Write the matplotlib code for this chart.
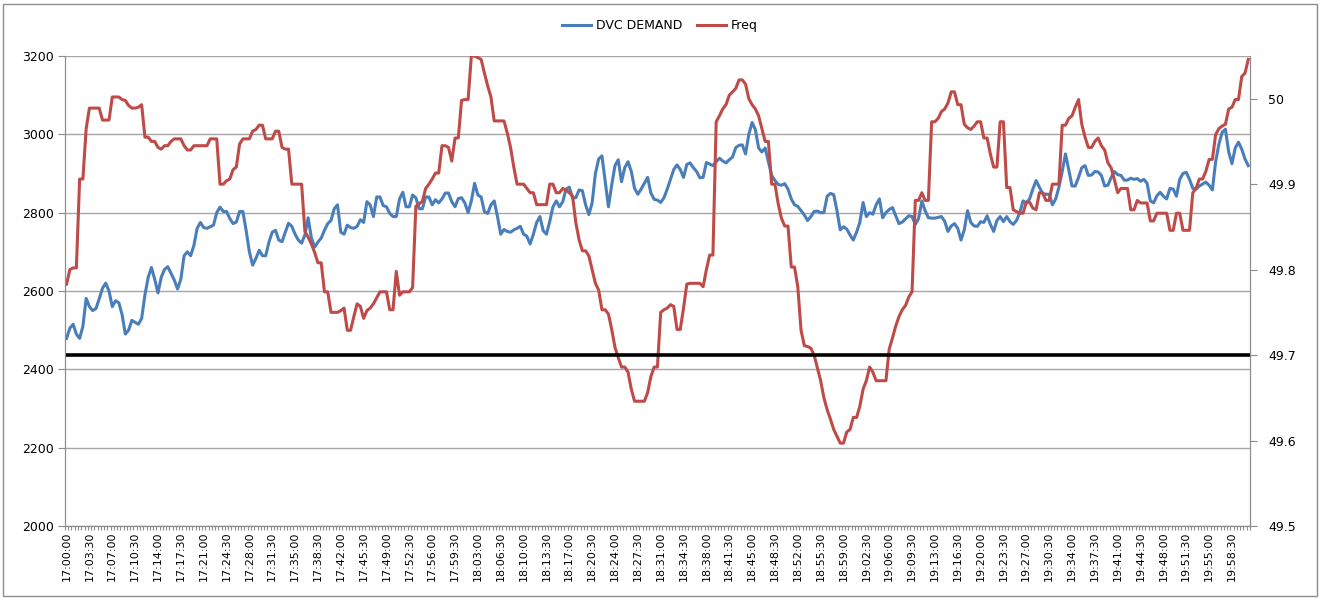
import numpy as np
import pandas as pd
import matplotlib
matplotlib.use('Agg')
import matplotlib.pyplot as plt
from matplotlib.patches import Rectangle

# DVC demand (left axis), one value every 30 s from 17:00:00
demand = [
    2479, 2505, 2515, 2490, 2479, 2510, 2581, 2560, 2550, 2555,
    2580, 2607, 2620, 2600, 2560, 2575, 2570, 2540, 2490, 2500,
    2525, 2520, 2515, 2530, 2590, 2635, 2660, 2630, 2595, 2635,
    2655, 2662, 2645, 2628, 2605, 2630, 2690, 2700, 2690, 2716,
    2760, 2775, 2762, 2760, 2764, 2768, 2800, 2814, 2803, 2803,
    2785, 2772, 2776, 2803, 2803, 2755, 2700, 2666, 2683, 2704,
    2690, 2690, 2725, 2750, 2755, 2730, 2726, 2750, 2773, 2765,
    2745, 2730, 2722, 2743, 2787, 2735, 2712, 2725, 2735, 2755,
    2772, 2780, 2810, 2820, 2750, 2745, 2768, 2762, 2760, 2765,
    2782, 2775, 2828, 2820, 2790, 2840, 2840, 2818, 2815, 2798,
    2790, 2790, 2835, 2852, 2815, 2815, 2845, 2838, 2810, 2810,
    2840, 2840, 2820, 2833, 2825, 2835, 2850, 2850, 2828, 2815,
    2836, 2838, 2825, 2800, 2830, 2875, 2845, 2840, 2802, 2798,
    2820, 2830, 2790, 2745, 2757, 2752, 2750, 2756, 2760, 2765,
    2745, 2740, 2720, 2745, 2775, 2790, 2754, 2745, 2777, 2815,
    2830, 2815, 2828, 2860, 2865, 2838, 2838, 2858, 2856, 2820,
    2795, 2825, 2900, 2937, 2945, 2880, 2815, 2871, 2920, 2935,
    2879, 2915, 2930, 2905, 2862, 2847, 2860, 2875, 2890, 2850,
    2834, 2832, 2826, 2838, 2860, 2885, 2910, 2922, 2910, 2890,
    2923, 2927, 2915, 2905, 2889, 2890, 2928, 2924, 2920, 2930,
    2939, 2932, 2927, 2935, 2942, 2966, 2972, 2973, 2950, 3000,
    3030, 3012, 2965, 2955, 2965, 2930, 2895, 2882, 2872, 2870,
    2874, 2860, 2835, 2820, 2816, 2805, 2794, 2780, 2790, 2803,
    2804, 2800, 2800, 2842, 2849, 2846, 2805, 2756, 2764, 2758,
    2743, 2730, 2750, 2775, 2826, 2790, 2800, 2796, 2820, 2835,
    2787, 2800, 2808, 2813, 2792, 2772, 2776, 2784, 2792, 2790,
    2770, 2785, 2830, 2805, 2787, 2786, 2786, 2788, 2790, 2778,
    2752, 2766, 2772, 2760, 2730, 2756, 2805, 2775, 2766, 2765,
    2777, 2775, 2792, 2770, 2752, 2780, 2790, 2777, 2790, 2777,
    2770, 2780, 2800, 2830, 2825, 2835, 2860, 2882, 2865, 2849,
    2847, 2847, 2820, 2835, 2865, 2905, 2950, 2910, 2868, 2868,
    2890, 2915, 2920, 2895, 2896, 2905, 2904, 2895, 2868, 2870,
    2890, 2905, 2897, 2895, 2883, 2883, 2888, 2885, 2887, 2880,
    2885, 2875, 2830, 2825, 2843, 2852, 2842, 2835, 2862, 2860,
    2842, 2885, 2900, 2903, 2885, 2862, 2860, 2868, 2873, 2878,
    2870, 2858, 2930, 2975, 3005, 3013, 2955, 2925, 2965, 2980,
    2962, 2937, 2920,
]

# grid frequency in Hz (right axis)
freq = [
    49.783, 49.800, 49.802, 49.802, 49.906, 49.906, 49.965, 49.989, 49.989, 49.989,
    49.989, 49.975, 49.975, 49.975, 50.002, 50.002, 50.002, 49.999, 49.998, 49.992,
    49.989, 49.989, 49.990, 49.993, 49.955, 49.955, 49.950, 49.950, 49.943, 49.941,
    49.945, 49.945, 49.950, 49.953, 49.953, 49.953, 49.945, 49.940, 49.940, 49.945,
    49.945, 49.945, 49.945, 49.945, 49.953, 49.953, 49.953, 49.900, 49.900, 49.904,
    49.906, 49.917, 49.920, 49.947, 49.953, 49.953, 49.953, 49.962, 49.964, 49.969,
    49.969, 49.953, 49.953, 49.953, 49.962, 49.962, 49.943, 49.941, 49.941, 49.900,
    49.900, 49.900, 49.900, 49.845, 49.838, 49.830, 49.820, 49.808, 49.808, 49.774,
    49.774, 49.750, 49.750, 49.750, 49.752, 49.755, 49.729, 49.729, 49.745, 49.760,
    49.757, 49.743, 49.752, 49.755, 49.760, 49.767, 49.774, 49.774, 49.774, 49.753,
    49.753, 49.798, 49.770, 49.774, 49.774, 49.774, 49.779, 49.874, 49.877, 49.880,
    49.895, 49.900, 49.906, 49.913, 49.913, 49.945, 49.945, 49.943, 49.927, 49.954,
    49.954, 49.998, 49.999, 49.999, 50.050, 50.050, 50.048, 50.046, 50.030, 50.015,
    50.002, 49.974, 49.974, 49.974, 49.974, 49.960, 49.943, 49.920, 49.900, 49.900,
    49.900, 49.895, 49.890, 49.890, 49.876, 49.876, 49.876, 49.876, 49.900, 49.900,
    49.890, 49.890, 49.895, 49.893, 49.890, 49.886, 49.855, 49.835, 49.822, 49.822,
    49.816, 49.800, 49.784, 49.776, 49.753, 49.753, 49.748, 49.730, 49.709, 49.697,
    49.686, 49.686, 49.680, 49.660, 49.646, 49.646, 49.646, 49.646, 49.656, 49.675,
    49.686, 49.686, 49.750, 49.753, 49.755, 49.759, 49.757, 49.730, 49.730, 49.755,
    49.783, 49.784, 49.784, 49.784, 49.784, 49.780, 49.800, 49.817, 49.817, 49.973,
    49.980, 49.988, 49.993, 50.004, 50.008, 50.012, 50.022, 50.022, 50.017, 50.000,
    49.993, 49.988, 49.980, 49.965, 49.950, 49.950, 49.900, 49.900, 49.877, 49.860,
    49.851, 49.851, 49.803, 49.803, 49.780, 49.729, 49.711, 49.710, 49.708, 49.700,
    49.685, 49.670, 49.650, 49.636, 49.625, 49.613, 49.605, 49.597, 49.597, 49.610,
    49.613, 49.627, 49.627, 49.640, 49.660, 49.670, 49.686, 49.680, 49.670, 49.670,
    49.670, 49.670, 49.707, 49.720, 49.734, 49.745, 49.753, 49.758, 49.768, 49.774,
    49.881, 49.881, 49.890, 49.881, 49.881, 49.973, 49.973, 49.977, 49.985, 49.988,
    49.995, 50.008, 50.008, 49.993, 49.993, 49.970, 49.966, 49.964, 49.968, 49.973,
    49.973, 49.954, 49.954, 49.935, 49.920, 49.920, 49.973, 49.973, 49.896, 49.896,
    49.870, 49.868, 49.866, 49.866, 49.879, 49.879, 49.872, 49.870, 49.890, 49.890,
    49.881, 49.881, 49.900, 49.900, 49.900, 49.969, 49.969, 49.977, 49.980, 49.990,
    49.999, 49.970, 49.955, 49.943, 49.943, 49.950, 49.954, 49.945, 49.940, 49.925,
    49.919, 49.905, 49.890, 49.895, 49.895, 49.895, 49.870, 49.870, 49.881, 49.878,
    49.878, 49.878, 49.857, 49.857, 49.866, 49.866, 49.866, 49.866, 49.846, 49.846,
    49.866, 49.866, 49.846, 49.846, 49.846, 49.890, 49.895, 49.906, 49.906, 49.915,
    49.929, 49.929, 49.958, 49.965, 49.968, 49.970, 49.988, 49.990, 49.999, 49.999,
    50.026, 50.030, 50.046,
]

freq_limit = 49.7
left_ticks = [2000, 2200, 2400, 2600, 2800, 3000, 3200]
right_ticks = [49.5, 49.6, 49.7, 49.8, 49.9, 50.0]
right_labels = ['49.5', '49.6', '49.7', '49.8', '49.9', '50']

times = pd.date_range('2000-01-01 17:00:00', periods=len(demand), freq='30s').strftime('%H:%M:%S')
label_every = 7

plt.rcParams['font.family'] = ['DejaVu Sans']

fig = plt.figure(figsize=(13.2, 5.98), dpi=100)
fig.patches.append(Rectangle((0.002, 0.003), 0.996, 0.99, transform=fig.transFigure,
                             fill=False, edgecolor='#8c8c8c', linewidth=1))
ax = fig.add_axes([0.0492, 0.1204, 0.8977, 0.786])
ax2 = ax.twinx()

x = np.arange(len(demand))
l1, = ax.plot(x, demand, color='#4a7ebb', linewidth=2.2, solid_joinstyle='round')
l2, = ax2.plot(x, freq, color='#be4b48', linewidth=2.2, solid_joinstyle='round')
ax2.axhline(freq_limit, color='black', linewidth=2.6)

ax.set_xlim(-0.5, len(demand) - 0.5)
ax.set_ylim(2000, 3200)
ax2.set_ylim(49.5, 50.05)

ax.set_yticks(left_ticks)
ax.set_yticklabels([str(v) for v in left_ticks], fontsize=9)
ax2.set_yticks(right_ticks)
ax2.set_yticklabels(right_labels, fontsize=9)

ax.set_xticks(x[::label_every])
ax.set_xticklabels(times[::label_every], rotation=90, fontsize=8)
ax.set_xticks(np.arange(-0.5, len(demand), 1), minor=True)
ax.tick_params(axis='x', which='major', length=0, pad=4)
ax.tick_params(axis='x', which='minor', length=3, color='#8c8c8c', width=0.8)
ax.tick_params(axis='y', length=5, color='#8c8c8c', pad=3)
ax2.tick_params(axis='y', length=5, color='#8c8c8c', pad=8)

ax.grid(axis='y', color='#a6a6a6', linewidth=1)
ax.set_axisbelow(True)
for a in (ax, ax2):
    a.spines['top'].set_visible(False)
    for s in ('left', 'right', 'bottom'):
        a.spines[s].set_color('#8c8c8c')

fig.legend([l1, l2], ['DVC DEMAND', 'Freq'], loc='center', bbox_to_anchor=(0.5, 0.957),
           ncol=2, frameon=False, fontsize=9, handlelength=2.3, columnspacing=1.2,
           handletextpad=0.4)

fig.savefig('out.png', dpi=100)
